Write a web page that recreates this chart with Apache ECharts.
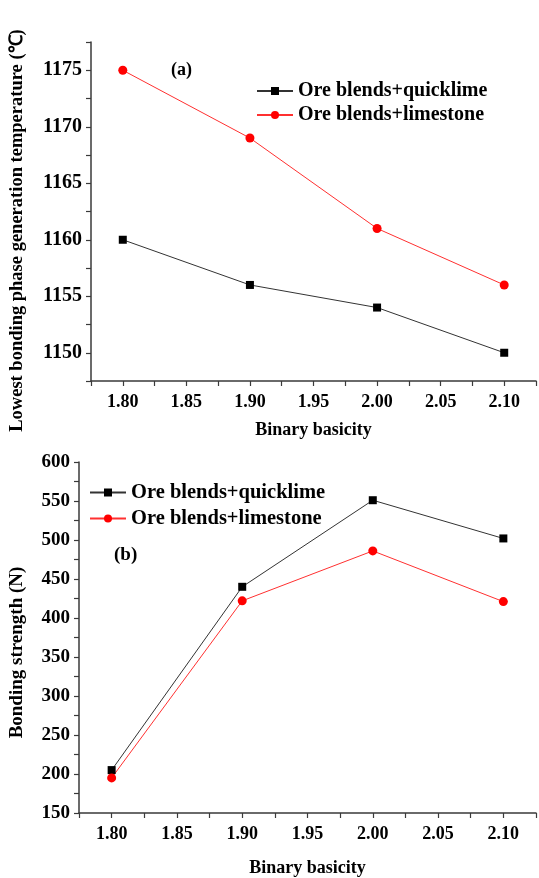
<!DOCTYPE html>
<html>
<head>
<meta charset="utf-8">
<script src="https://cdn.jsdelivr.net/npm/echarts@6/dist/echarts.min.js"></script>
<style>
  html, body { margin: 0; padding: 0; background: #fff; }
  #chart { width: 539px; height: 878px; }
</style>
</head>
<body>
<div id="chart"></div>
<script>
var basicity = [1.80, 1.90, 2.00, 2.10];
// (a) lowest bonding phase generation temperature
var tempQuicklime = [1160, 1156, 1154, 1150];
var tempLimestone = [1175, 1169, 1161, 1156];
// (b) bonding strength
var strengthQuicklime = [205, 440, 551, 502];
var strengthLimestone = [195, 422, 486, 421];

var nameQ = 'Ore blends+quicklime';
var nameL = 'Ore blends+limestone';

function pairs(xs, ys) {
  return xs.map(function (x, i) { return [x, ys[i]]; });
}

var font = 'Liberation Serif';
var axisColor = '#3a3a3a';

function xAxisOf(gridIndex, nameGap, margin) {
  return {
    gridIndex: gridIndex,
    type: 'value',
    min: 1.775,
    max: 2.125,
    interval: 0.025,
    name: 'Binary basicity',
    nameLocation: 'middle',
    nameGap: nameGap,
    nameTextStyle: { fontFamily: font, fontWeight: 'bold', fontSize: 18, color: '#000' },
    axisLine: { lineStyle: { color: axisColor, width: 1.5 } },
    axisTick: { length: 5, lineStyle: { color: axisColor, width: 1.2 } },
    axisLabel: {
      margin: margin,
      fontFamily: font, fontWeight: 'bold', fontSize: 18, color: '#000',
      formatter: function (v) {
        return Math.round(v * 1000) % 50 === 0 ? v.toFixed(2) : '';
      }
    },
    splitLine: { show: false }
  };
}

var chart = echarts.init(document.getElementById('chart'));
var option = {
  backgroundColor: '#fff',
  animation: false,
  grid: [
    { left: 90, right: -3, top: 42, height: 339 },
    { left: 77, right: -10, top: 462, height: 353 }
  ],
  xAxis: [xAxisOf(0, 40, 12), xAxisOf(1, 46, 12)],
  yAxis: [
    {
      gridIndex: 0,
      type: 'value',
      min: 1147.5,
      max: 1177.5,
      interval: 2.5,
      name: 'Lowest bonding phase generation temperature (\u2103)',
      nameLocation: 'middle',
      nameGap: 64,
      nameTextStyle: {
        fontFamily: font, fontWeight: 'bold', fontSize: 18.5, color: '#000',
        padding: [0, 38, 0, 0]
      },
      axisLine: { show: true, lineStyle: { color: axisColor, width: 1.5 } },
      axisTick: { show: true, length: 5, lineStyle: { color: axisColor, width: 1.2 } },
      axisLabel: {
        margin: 9,
        fontFamily: font, fontWeight: 'bold', fontSize: 20, color: '#000',
        formatter: function (v) { return Math.round(v * 10) % 50 === 0 ? v : ''; }
      },
      splitLine: { show: false }
    },
    {
      gridIndex: 1,
      type: 'value',
      min: 150,
      max: 600,
      interval: 25,
      name: 'Bonding strength (N)',
      nameLocation: 'middle',
      nameGap: 52,
      nameTextStyle: {
        fontFamily: font, fontWeight: 'bold', fontSize: 19, color: '#000',
        padding: [0, 30, 0, 0]
      },
      axisLine: { show: true, lineStyle: { color: axisColor, width: 1.5 } },
      axisTick: { show: true, length: 5, lineStyle: { color: axisColor, width: 1.2 } },
      axisLabel: {
        margin: 9,
        fontFamily: font, fontWeight: 'bold', fontSize: 19, color: '#000',
        formatter: function (v) { return v % 50 === 0 ? v : ''; }
      },
      splitLine: { show: false }
    }
  ],
  legend: [
    {
      orient: 'vertical',
      left: 251,
      top: 76,
      itemWidth: 36,
      itemHeight: 10,
      itemGap: 4,
      data: [nameQ, nameL],
      textStyle: { fontFamily: font, fontWeight: 'bold', fontSize: 20, color: '#000' }
    },
    {
      orient: 'vertical',
      left: 84,
      top: 477,
      itemWidth: 36,
      itemHeight: 10,
      itemGap: 5,
      data: [nameQ, nameL],
      textStyle: { fontFamily: font, fontWeight: 'bold', fontSize: 20.5, color: '#000' }
    }
  ],
  graphic: [
    {
      type: 'text', left: 171, top: 61,
      style: { text: '(a)', font: 'bold 18px "Liberation Serif"', fill: '#000' }
    },
    {
      type: 'text', left: 114, top: 546,
      style: { text: '(b)', font: 'bold 19px "Liberation Serif"', fill: '#000' }
    }
  ],
  series: [
    {
      name: nameQ, type: 'line', xAxisIndex: 0, yAxisIndex: 0,
      data: pairs(basicity, tempQuicklime),
      symbol: 'rect', symbolSize: 8,
      itemStyle: { color: '#000' },
      lineStyle: { color: '#333', width: 1 }
    },
    {
      name: nameL, type: 'line', xAxisIndex: 0, yAxisIndex: 0,
      data: pairs(basicity, tempLimestone),
      symbol: 'circle', symbolSize: 9,
      itemStyle: { color: '#ff0000' },
      lineStyle: { color: '#ff3030', width: 1 }
    },
    {
      name: nameQ, type: 'line', xAxisIndex: 1, yAxisIndex: 1,
      data: pairs(basicity, strengthQuicklime),
      symbol: 'rect', symbolSize: 8,
      itemStyle: { color: '#000' },
      lineStyle: { color: '#333', width: 1 }
    },
    {
      name: nameL, type: 'line', xAxisIndex: 1, yAxisIndex: 1,
      data: pairs(basicity, strengthLimestone),
      symbol: 'circle', symbolSize: 9,
      itemStyle: { color: '#ff0000' },
      lineStyle: { color: '#ff3030', width: 1 }
    }
  ]
};
chart.setOption(option);
</script>
</body>
</html>
